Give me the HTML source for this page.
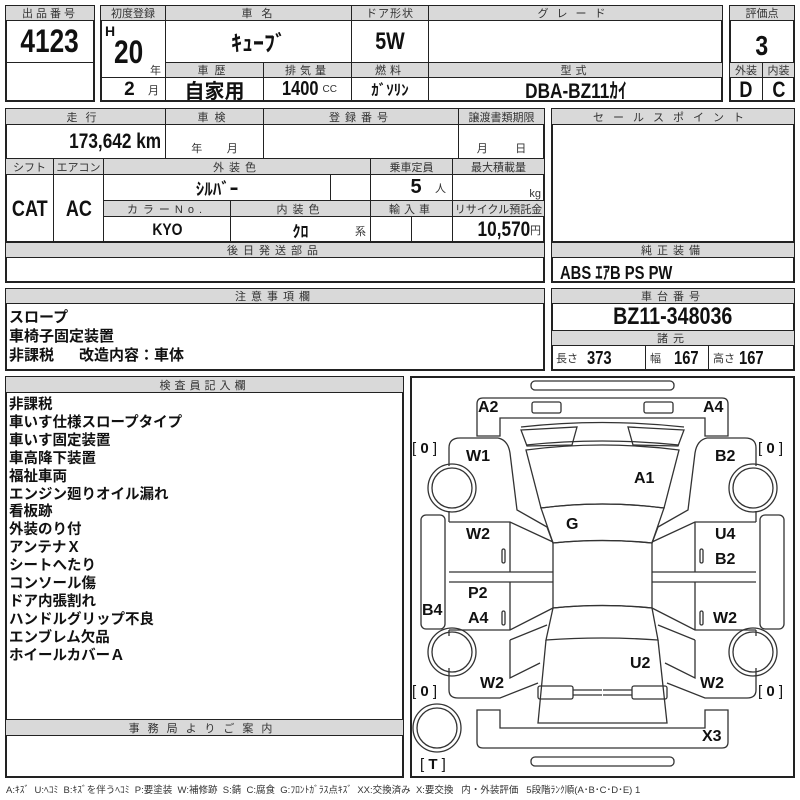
<!DOCTYPE html>
<html><head><meta charset="utf-8">
<style>
body{margin:0;background:#fff;}
#p{position:relative;width:800px;height:800px;overflow:hidden;font-family:"Liberation Sans","Noto Sans CJK JP",sans-serif;color:#111;}
.c{position:absolute;box-sizing:border-box;border:1px solid #222;display:flex;align-items:center;justify-content:center;white-space:nowrap;}
.h{background:#d9d9d9;font-size:11px;color:#333;letter-spacing:3px;}
.v{font-family:"Liberation Sans Narrow","Liberation Sans","Noto Sans CJK JP",sans-serif;font-weight:bold;}
.n{display:inline-block;transform:scaleX(.82);}
.nr{display:inline-block;transform:scaleX(.82);transform-origin:right center;}
.nl{display:inline-block;transform:scaleX(.82);transform-origin:left center;}
.s{font-size:11px;font-weight:normal;color:#333;font-family:"Liberation Sans","Noto Sans CJK JP",sans-serif;}
.b{position:absolute;box-sizing:border-box;border:2px solid #222;}
.t{position:absolute;white-space:nowrap;}
.list{position:absolute;left:9px;top:397px;font-size:14.5px;font-weight:bold;line-height:17.9px;font-family:"Liberation Sans","Noto Sans CJK JP",sans-serif;}
.lab{font-family:"Liberation Sans","Noto Sans CJK JP",sans-serif;font-weight:bold;font-size:16px;}
</style></head><body><div id="p">

<div class="b" style="left:5px;top:5px;width:90px;height:97px"></div>
<div class="c h" style="left:5px;top:5px;width:90px;height:16px">出品番号</div>
<div class="c v" style="left:5px;top:20px;width:90px;height:43px;font-size:32px"><span class="n">4123</span></div>

<div class="b" style="left:100px;top:5px;width:623px;height:97px"></div>
<div class="c h" style="left:100px;top:5px;width:66px;height:16px;letter-spacing:0">初度登録</div>
<div class="c h" style="left:165px;top:5px;width:187px;height:16px">車 名</div>
<div class="c h" style="left:351px;top:5px;width:78px;height:16px;letter-spacing:1px">ドア形状</div>
<div class="c h" style="left:428px;top:5px;width:295px;height:16px;letter-spacing:8px">グレード</div>
<div class="c" style="left:100px;top:20px;width:66px;height:58px"></div>
<div class="t v" style="left:105px;top:23px;font-size:14px">H</div>
<div class="t v" style="left:114px;top:34px;font-size:32px"><span class="nl">20</span></div>
<div class="t s" style="left:150px;top:62px">年</div>
<div class="c" style="left:100px;top:77px;width:66px;height:25px;justify-content:flex-end;padding-right:6px"><span class="v" style="font-size:19px">2</span>&nbsp;&nbsp;&nbsp;<span class="s">月</span></div>
<div class="c v" style="left:165px;top:20px;width:187px;height:43px;font-size:22px">ｷｭｰﾌﾞ</div>
<div class="c v" style="left:351px;top:20px;width:78px;height:43px;font-size:24px"><span class="n">5W</span></div>
<div class="c" style="left:428px;top:20px;width:295px;height:43px"></div>
<div class="c h" style="left:165px;top:62px;width:99px;height:16px;letter-spacing:6px">車歴</div>
<div class="c h" style="left:263px;top:62px;width:89px;height:16px;letter-spacing:4px">排気量</div>
<div class="c h" style="left:351px;top:62px;width:78px;height:16px;letter-spacing:4px">燃料</div>
<div class="c h" style="left:428px;top:62px;width:295px;height:16px;letter-spacing:4px">型式</div>
<div class="c v" style="left:165px;top:77px;width:99px;height:25px;font-size:20px">自家用</div>
<div class="c" style="left:263px;top:77px;width:89px;height:25px"><span class="v" style="font-size:20px"><span class="n">1400</span></span><span class="s" style="font-size:10px">CC</span></div>
<div class="c v" style="left:351px;top:77px;width:78px;height:25px;font-size:15px">ｶﾞｿﾘﾝ</div>
<div class="c v" style="left:428px;top:77px;width:295px;height:25px;font-size:21px"><span class="n">DBA-BZ11ｶｲ</span></div>

<div class="b" style="left:729px;top:5px;width:66px;height:97px"></div>
<div class="c h" style="left:729px;top:5px;width:66px;height:16px;letter-spacing:0">評価点</div>
<div class="c v" style="left:729px;top:20px;width:66px;height:43px;font-size:28px;padding-top:8px"><span class="n">3</span></div>
<div class="c h" style="left:729px;top:62px;width:34px;height:16px;letter-spacing:0">外装</div>
<div class="c h" style="left:762px;top:62px;width:33px;height:16px;letter-spacing:0">内装</div>
<div class="c v" style="left:729px;top:77px;width:34px;height:25px;font-size:22px"><span class="n">D</span></div>
<div class="c v" style="left:762px;top:77px;width:33px;height:25px;font-size:22px"><span class="n">C</span></div>

<div class="b" style="left:5px;top:108px;width:540px;height:135px"></div>
<div class="c h" style="left:5px;top:108px;width:161px;height:17px;letter-spacing:8px">走行</div>
<div class="c h" style="left:165px;top:108px;width:99px;height:17px;letter-spacing:6px">車検</div>
<div class="c h" style="left:263px;top:108px;width:196px;height:17px;letter-spacing:5px">登録番号</div>
<div class="c h" style="left:458px;top:108px;width:87px;height:17px;letter-spacing:0">譲渡書類期限</div>
<div class="c" style="left:5px;top:124px;width:161px;height:35px;justify-content:flex-end;padding-right:4px"><span class="v" style="font-size:21px"><span class="nr">173,642 km</span></span></div>
<div class="c" style="left:165px;top:124px;width:99px;height:35px;align-items:flex-end;padding-bottom:2px"><span class="s">年&nbsp;&nbsp;&nbsp;&nbsp;&nbsp;&nbsp;&nbsp;&nbsp;月</span></div>
<div class="c" style="left:263px;top:124px;width:196px;height:35px"></div>
<div class="c" style="left:458px;top:124px;width:87px;height:35px;align-items:flex-end;padding-bottom:2px"><span class="s">月&nbsp;&nbsp;&nbsp;&nbsp;&nbsp;&nbsp;&nbsp;&nbsp;&nbsp;日</span></div>
<div class="c h" style="left:5px;top:158px;width:49px;height:17px;letter-spacing:0">シフト</div>
<div class="c h" style="left:53px;top:158px;width:51px;height:17px;letter-spacing:0">エアコン</div>
<div class="c h" style="left:103px;top:158px;width:268px;height:17px;letter-spacing:5px">外装色</div>
<div class="c h" style="left:370px;top:158px;width:83px;height:17px;letter-spacing:0">乗車定員</div>
<div class="c h" style="left:452px;top:158px;width:93px;height:17px;letter-spacing:0">最大積載量</div>
<div class="c v" style="left:5px;top:174px;width:49px;height:69px;font-size:22px"><span class="n">CAT</span></div>
<div class="c v" style="left:53px;top:174px;width:51px;height:69px;font-size:22px"><span class="n">AC</span></div>
<div class="c v" style="left:103px;top:174px;width:228px;height:27px;font-size:17px">ｼﾙﾊﾞｰ</div>
<div class="c" style="left:330px;top:174px;width:41px;height:27px"></div>
<div class="c" style="left:370px;top:174px;width:83px;height:27px;justify-content:flex-end;padding-right:6px"><span class="v" style="font-size:20px">5</span>&nbsp;&nbsp;&nbsp;<span class="s">人</span></div>
<div class="c" style="left:452px;top:174px;width:93px;height:27px;justify-content:flex-end;padding-right:3px;align-items:flex-end"><span class="s">kg</span></div>
<div class="c h" style="left:103px;top:200px;width:128px;height:17px;letter-spacing:5px">カラーNo.</div>
<div class="c h" style="left:230px;top:200px;width:141px;height:17px;letter-spacing:5px">内装色</div>
<div class="c h" style="left:370px;top:200px;width:83px;height:17px;letter-spacing:4px">輸入車</div>
<div class="c h" style="left:452px;top:200px;width:93px;height:17px;letter-spacing:0">リサイクル預託金</div>
<div class="c v" style="left:103px;top:216px;width:128px;height:27px;font-size:17px"><span class="n">KYO</span></div>
<div class="c" style="left:230px;top:216px;width:141px;height:27px"><span class="v" style="font-size:16px">ｸﾛ</span><span class="s" style="position:absolute;right:4px;bottom:3px">系</span></div>
<div class="c" style="left:370px;top:216px;width:42px;height:27px"></div>
<div class="c" style="left:411px;top:216px;width:42px;height:27px"></div>
<div class="c" style="left:452px;top:216px;width:93px;height:27px;justify-content:flex-end;padding-right:3px"><span class="v" style="font-size:21px"><span class="nr">10,570</span></span><span class="s">円</span></div>

<div class="b" style="left:551px;top:108px;width:244px;height:135px"></div>
<div class="c h" style="left:551px;top:108px;width:244px;height:17px;letter-spacing:9px">セールスポイント</div>

<div class="b" style="left:5px;top:242px;width:540px;height:41px"></div>
<div class="c h" style="left:5px;top:242px;width:540px;height:16px;letter-spacing:5px">後日発送部品</div>
<div class="b" style="left:551px;top:242px;width:244px;height:41px"></div>
<div class="c h" style="left:551px;top:242px;width:244px;height:16px;letter-spacing:5px">純正装備</div>
<div class="t v" style="left:560px;top:259px;font-size:18px"><span class="nl">ABS ｴｱB PS PW</span></div>

<div class="b" style="left:5px;top:288px;width:540px;height:83px"></div>
<div class="c h" style="left:5px;top:288px;width:540px;height:16px;letter-spacing:5px">注意事項欄</div>
<div class="t" style="left:9px;top:308px;font-size:15px;font-weight:bold;line-height:19px">スロープ<br>車椅子固定装置<br>非課税&nbsp;&nbsp;&nbsp;&nbsp;&nbsp;&nbsp;改造内容：車体</div>
<div class="b" style="left:551px;top:288px;width:244px;height:83px"></div>
<div class="c h" style="left:551px;top:288px;width:244px;height:16px;letter-spacing:5px">車台番号</div>
<div class="c v" style="left:551px;top:303px;width:244px;height:28px;font-size:24px"><span class="n">BZ11-348036</span></div>
<div class="c h" style="left:551px;top:330px;width:244px;height:16px;letter-spacing:5px">諸元</div>
<div class="c" style="left:551px;top:345px;width:95px;height:26px;justify-content:flex-start;padding-left:4px"><span class="s">長さ</span>&nbsp;&nbsp;<span class="v" style="font-size:18px"><span class="nl">373</span></span></div>
<div class="c" style="left:645px;top:345px;width:64px;height:26px;justify-content:flex-start;padding-left:4px"><span class="s">幅</span>&nbsp;&nbsp;&nbsp;<span class="v" style="font-size:18px"><span class="nl">167</span></span></div>
<div class="c" style="left:708px;top:345px;width:87px;height:26px;justify-content:flex-start;padding-left:4px"><span class="s">高さ</span>&nbsp;<span class="v" style="font-size:18px"><span class="nl">167</span></span></div>

<div class="b" style="left:5px;top:376px;width:399px;height:402px"></div>
<div class="c h" style="left:5px;top:376px;width:399px;height:17px;letter-spacing:4px">検査員記入欄</div>
<div class="list">非課税<br>車いす仕様スロープタイプ<br>車いす固定装置<br>車高降下装置<br>福祉車両<br>エンジン廻りオイル漏れ<br>看板跡<br>外装のり付<br>アンテナＸ<br>シートへたり<br>コンソール傷<br>ドア内張割れ<br>ハンドルグリップ不良<br>エンブレム欠品<br>ホイールカバーＡ</div>
<div class="c h" style="left:5px;top:719px;width:399px;height:17px;letter-spacing:8px">事務局よりご案内</div>

<div class="b" style="left:410px;top:376px;width:385px;height:402px"></div>
<svg style="position:absolute;left:0;top:0" width="800" height="800" fill="none" stroke="#333" stroke-width="1.3">
<rect x="531" y="381" width="143" height="9" rx="4"/>
<rect x="531" y="757" width="143" height="9" rx="4"/>
<path d="M477,436 L477,404 Q477,398 483,398 L722,398 Q728,398 728,404 L728,436 L705,436 L705,418 L500,418 L500,436 Z"/>
<rect x="532" y="402" width="29" height="11" rx="2"/>
<rect x="644" y="402" width="29" height="11" rx="2"/>
<path d="M477,710 L500,710 L500,728 L705,728 L705,710 L728,710 L728,742 Q728,748 722,748 L483,748 Q477,748 477,742 Z"/>
<path d="M526,450 Q602,440 679,450 L664,508 Q602,500 541,508 Z"/>
<path d="M541,508 Q602,500 664,508 L652,543 Q602,538 553,543 Z"/>
<path d="M553,543 Q602,538 652,543 L652,608 Q602,603 553,608 Z"/>
<path d="M553,608 Q602,603 652,608 L658,640 Q602,636 546,640 Z"/>
<path d="M546,640 L538,723 L667,723 L658,640"/>
<path d="M521,427 Q602,418 684,427 M526,445 Q602,437 679,445"/>
<g id="L">
<path d="M521,430 L577,427 L572,445 L527,446 Z"/>
<rect x="538" y="686" width="35" height="13" rx="2"/>
<path d="M573,690 L602,690 M573,695 L602,695"/>
<path d="M449,466 L449,448 Q449,438 460,438 L498,438 Q508,440 510,453 L517,510 L547,527 L553,543"/>
<path d="M449,522 L510,522 L553,542 M510,522 L510,572 M449,572 L553,572 M449,582 L553,582 M510,582 L510,630 M449,630 L510,630 L553,608"/>
<path d="M449,511 L449,522 M449,630 L449,636"/>
<path d="M510,640 L547,625 M510,640 L510,678 L540,663 M449,668 L449,690 Q449,698 458,698 L500,698 L538,683"/>
<circle cx="452" cy="488" r="24"/><circle cx="452" cy="488" r="20"/>
<circle cx="452" cy="652" r="24"/><circle cx="452" cy="652" r="20"/>
<rect x="421" y="515" width="24" height="114" rx="5"/>
<rect x="502" y="549" width="3" height="14" rx="1.5"/>
<rect x="502" y="611" width="3" height="14" rx="1.5"/>
</g>
<use href="#L" transform="translate(1205,0) scale(-1,1)"/>
<circle cx="437" cy="728" r="24"/><circle cx="437" cy="728" r="20"/>
</svg>
<div class="t lab" style="left:478px;top:399px">A2</div>
<div class="t lab" style="left:703px;top:399px">A4</div>
<div class="t lab" style="left:466px;top:448px">W1</div>
<div class="t lab" style="left:715px;top:448px">B2</div>
<div class="t lab" style="left:634px;top:470px">A1</div>
<div class="t lab" style="left:566px;top:516px">G</div>
<div class="t lab" style="left:466px;top:526px">W2</div>
<div class="t lab" style="left:715px;top:526px">U4</div>
<div class="t lab" style="left:715px;top:551px">B2</div>
<div class="t lab" style="left:468px;top:585px">P2</div>
<div class="t lab" style="left:422px;top:602px">B4</div>
<div class="t lab" style="left:468px;top:610px">A4</div>
<div class="t lab" style="left:713px;top:610px">W2</div>
<div class="t lab" style="left:630px;top:655px">U2</div>
<div class="t lab" style="left:480px;top:675px">W2</div>
<div class="t lab" style="left:700px;top:675px">W2</div>
<div class="t lab" style="left:702px;top:728px">X3</div>
<div class="t" style="left:412px;top:440px;font-size:15px">[ <b>0</b> ]</div>
<div class="t" style="left:758px;top:440px;font-size:15px">[ <b>0</b> ]</div>
<div class="t" style="left:412px;top:683px;font-size:15px">[ <b>0</b> ]</div>
<div class="t" style="left:758px;top:683px;font-size:15px">[ <b>0</b> ]</div>
<div class="t" style="left:420px;top:756px;font-size:15px">[ <b>T</b> ]</div>

<div class="t" style="left:6px;top:782px;font-size:9.5px;color:#333">A:ｷｽﾞ&nbsp; U:ﾍｺﾐ&nbsp; B:ｷｽﾞを伴うﾍｺﾐ&nbsp; P:要塗装&nbsp; W:補修跡&nbsp; S:錆&nbsp; C:腐食&nbsp; G:ﾌﾛﾝﾄｶﾞﾗｽ点ｷｽﾞ&nbsp; XX:交換済み&nbsp; X:要交換&nbsp;&nbsp; 内・外装評価&nbsp;&nbsp; 5段階ﾗﾝｸ順(A･B･C･D･E) 1</div>
</div></body></html>
